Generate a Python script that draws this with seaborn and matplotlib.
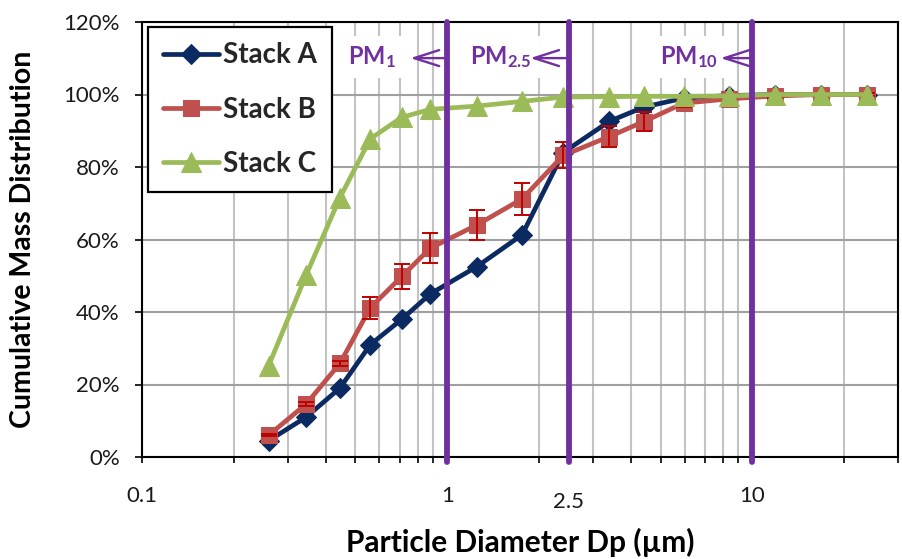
import numpy as np
import pandas as pd
import matplotlib
matplotlib.use("Agg")
import matplotlib.pyplot as plt
from matplotlib.ticker import FixedLocator, FuncFormatter
import seaborn as sns

# Stage cut diameters (µm) and cumulative mass fractions (%)
diameter = [0.26, 0.345, 0.445, 0.56, 0.71, 0.88, 1.25, 1.76, 2.4,
            3.4, 4.4, 5.95, 8.4, 11.9, 16.8, 23.8]
stack_a = [4.5, 11.0, 19.0, 31.0, 38.0, 45.0, 52.5, 61.3, 84.0,
           92.6, 96.5, 99.0, 99.7, 100.0, 100.0, 100.0]
stack_b = [6.0, 14.6, 25.8, 41.2, 49.8, 57.6, 64.0, 71.2, 83.2,
           88.4, 92.5, 97.6, 98.8, 99.6, 100.0, 100.0]
stack_b_err = [0.3, 0.5, 0.8, 3.0, 3.5, 4.1, 4.2, 4.4, 3.6,
               2.8, 2.6, 1.0, 1.0, 0.5, 0.3, 0.3]
stack_c = [25.2, 50.2, 71.5, 87.8, 93.7, 95.9, 96.8, 98.1, 99.3,
           99.4, 99.5, 99.5, 99.6, 100.0, 100.0, 100.0]

series_names = ["Stack A", "Stack B", "Stack C"]
cut_sizes = [1.0, 2.5, 10.0]
cut_labels = [r"$\mathbf{PM_{1}}$", r"$\mathbf{PM_{2.5}}$", r"$\mathbf{PM_{10}}$"]
x_major = [0.1, 1, 10]
y_ticks = [0, 20, 40, 60, 80, 100, 120]

sns.set_style("white")
plt.rcParams["font.family"] = ["Lato", "DejaVu Sans"]
plt.rcParams["mathtext.fontset"] = "custom"
plt.rcParams["mathtext.bf"] = "Lato:bold"
plt.rcParams["mathtext.rm"] = "Lato"

df = pd.DataFrame({
    "Dp": diameter * 3,
    "Cum": stack_a + stack_b + stack_c,
    "Stack": np.repeat(series_names, len(diameter)),
})

colors = {"Stack A": "#0b2a62", "Stack B": "#c0504d", "Stack C": "#9bbb59"}
markers = {"Stack A": "D", "Stack B": "s", "Stack C": "^"}
msizes = {"Stack A": 10.5, "Stack B": 11, "Stack C": 15}
purple = "#7030a0"

fig = plt.figure(figsize=(9.03, 5.59), dpi=100)
ax = fig.add_axes([142 / 903, (559 - 457) / 559, 756 / 903, 435 / 559])

for i, name in enumerate(series_names):
    sub = df[df["Stack"] == name]
    sns.lineplot(data=sub, x="Dp", y="Cum", ax=ax, color=colors[name],
                 marker=markers[name], markersize=msizes[name],
                 markeredgecolor=colors[name], linewidth=3.4,
                 label=name, zorder=3 + i, sort=False)
    if name == "Stack B":
        ax.errorbar(diameter, stack_b, yerr=stack_b_err, fmt="none",
                    ecolor="#c00000", elinewidth=1.4, capsize=5.5,
                    capthick=1.4, zorder=4.5)

ax.set_xscale("log")
ax.set_xlim(0.1, 30)
ax.set_ylim(0, 120)

# y axis
ax.set_yticks(y_ticks)
ax.yaxis.set_major_formatter(FuncFormatter(lambda v, p: f"{v:.0f}%"))

# x axis: decades labelled, 2.5 labelled a little lower
ax.xaxis.set_major_locator(FixedLocator(x_major))
ax.xaxis.set_major_formatter(FuncFormatter(lambda v, p: f"{v:g}"))
minor = [k * 10.0 ** e for e in (-1, 0, 1) for k in range(2, 10) if k * 10.0 ** e <= 30]
ax.xaxis.set_minor_locator(FixedLocator(minor + [2.5]))
ax.xaxis.set_minor_formatter(FuncFormatter(lambda v, p: "2.5" if abs(v - 2.5) < 1e-6 else ""))

ax.tick_params(axis="x", which="both", direction="out", length=4, width=1.2,
               color="black", labelsize=16, labelcolor="#1a1a1a")
ax.tick_params(axis="x", which="major", pad=17)
ax.tick_params(axis="x", which="minor", pad=21)
ax.tick_params(axis="y", which="major", direction="out", length=5, width=1.2,
               color="black", labelsize=16, labelcolor="#1a1a1a", pad=11)
ax.tick_params(left=True, bottom=True)
ax.tick_params(axis="x", which="minor", bottom=True)

ax.set_axisbelow(True)
ax.yaxis.grid(True, which="major", color="#a0a0a0", lw=1.5)
ax.xaxis.grid(True, which="both", color="#c3c3c3", lw=1.5)

for sp in ax.spines.values():
    sp.set_color("black")
    sp.set_linewidth(1.5)
    sp.set_visible(True)

# PM cut-size markers
text_x = [0.472, 1.188, 4.98]
tip_x = [0.757, 1.87, 7.86]
for cut, lab, tx, hx in zip(cut_sizes, cut_labels, text_x, tip_x):
    ax.axvline(cut, ymin=-0.012, ymax=1, color=purple, lw=4.2, zorder=6,
               clip_on=False)
    ax.annotate("", xy=(hx, 0.917), xytext=(cut, 0.917),
                xycoords=("data", "axes fraction"),
                textcoords=("data", "axes fraction"),
                arrowprops=dict(arrowstyle="->,head_length=1.0,head_width=0.32",
                                mutation_scale=18, color=purple, lw=1.7,
                                shrinkA=0, shrinkB=0), zorder=6)
    ax.text(tx, 0.903, lab, transform=ax.get_xaxis_transform(), ha="left",
            va="baseline", fontsize=17, color=purple, zorder=2.5,
            bbox=dict(boxstyle="square,pad=0.35", fc="white", ec="none"))

ax.set_xlabel("Particle Diameter Dp (µm)", fontsize=21.5, fontweight="bold",
              color="black")
ax.xaxis.set_label_coords(0.5, -0.163)
ax.set_ylabel("Cumulative Mass Distribution", fontsize=20.5, fontweight="bold",
              color="black")
ax.yaxis.set_label_coords(-0.14, 0.5)

handles, labels = ax.get_legend_handles_labels()
leg = ax.legend(handles[:3], labels[:3], loc="upper left",
                bbox_to_anchor=(0.008, 0.9885), borderaxespad=0,
                prop={"weight": "bold", "size": 20},
                frameon=True, fancybox=False, shadow=False,
                handlelength=2.0, handletextpad=0.15, labelspacing=1.02,
                borderpad=0.55, framealpha=1)
leg.get_frame().set_edgecolor("black")
leg.get_frame().set_linewidth(1.6)
leg.set_zorder(10)

fig.savefig("out.png", dpi=100)
